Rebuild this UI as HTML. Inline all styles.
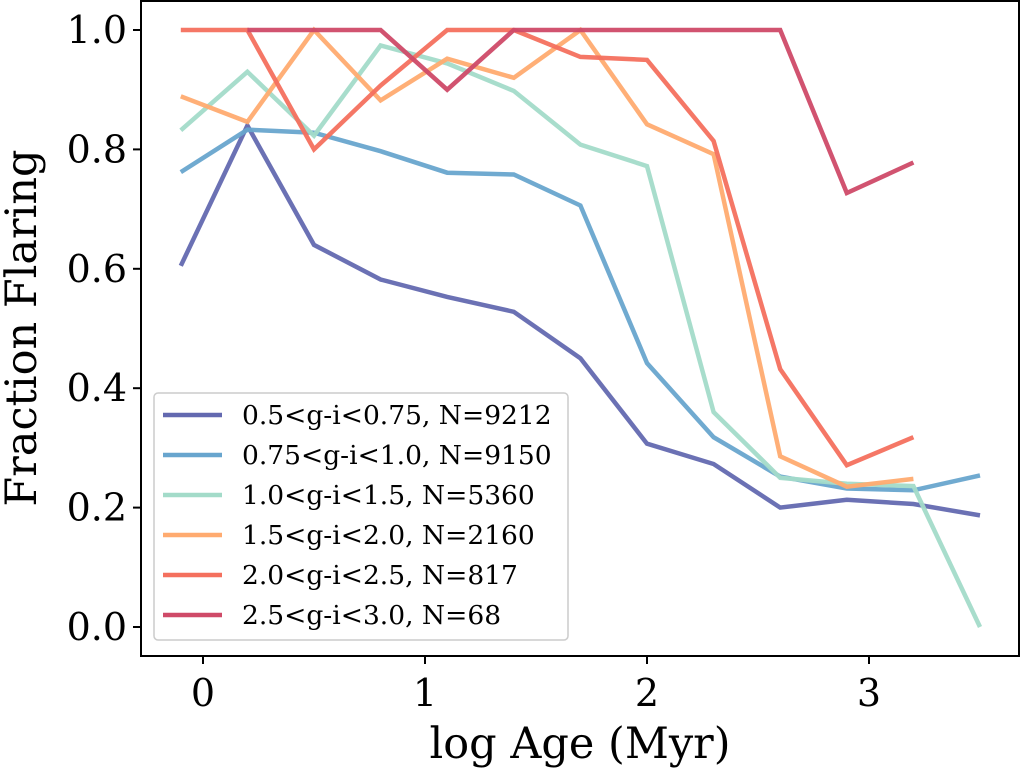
<!DOCTYPE html>
<html><head><meta charset="utf-8"><style>
body{margin:0;background:#fff}
svg text{font-family:"DejaVu Serif","Liberation Serif",serif;fill:#000}
</style></head><body>
<svg id="chart" width="1021" height="769" viewBox="0 0 1021 769" xmlns="http://www.w3.org/2000/svg">
<g id="lines"></g>
<rect x="141" y="1" width="878" height="655" fill="none" stroke="#000" stroke-width="2"/>
<g id="axes"></g>
<text x="580" y="758" font-size="43" text-anchor="middle">log Age (Myr)</text>
<text transform="translate(36,328) rotate(-90)" font-size="43" text-anchor="middle">Fraction Flaring</text>
<g id="legend"></g>
</svg>
<script>
const xs = [-0.1,0.2,0.5,0.8,1.1,1.4,1.7,2.0,2.3,2.6,2.9,3.2,3.5];
const labels = ["0.5<g-i<0.75, N=9212","0.75<g-i<1.0, N=9150","1.0<g-i<1.5, N=5360","1.5<g-i<2.0, N=2160","2.0<g-i<2.5, N=817","2.5<g-i<3.0, N=68"];
const s1 = [0.605,0.84,0.64,0.582,0.553,0.528,0.45,0.307,0.273,0.200,0.213,0.206,0.187];
const s2 = [0.762,0.833,0.828,0.797,0.761,0.758,0.706,0.442,0.318,0.252,0.232,0.229,0.254];
const s3 = [0.832,0.930,0.823,0.974,0.944,0.898,0.808,0.772,0.360,0.250,0.240,0.236,0.0];
const s4 = [0.889,0.846,1.0,0.882,0.952,0.920,1.0,0.842,0.792,0.286,0.235,0.248,null];
const s5 = [1.0,1.0,0.80,0.907,1.0,1.0,0.955,0.950,0.814,0.432,0.271,0.318,null];
const s6 = [null,1.0,1.0,1.0,0.90,1.0,1.0,1.0,1.0,1.0,0.727,0.778,null];
const xTicks = [0,1,2,3];
const yTicks = [0.0,0.2,0.4,0.6,0.8,1.0];
const series = [s1,s2,s3,s4,s5,s6];
const colors = ["#6369b0","#68a5ce","#a3dbc9","#ffab70","#f4705e","#cf4a68"];
const X = v => 203 + v*222;
const Y = v => 627 - v*597;
const NS="http://www.w3.org/2000/svg";
const lg=document.getElementById('lines');
series.forEach((s,i)=>{
  const pts=[];s.forEach((v,j)=>{if(v!==null)pts.push(X(xs[j]).toFixed(1)+','+Y(v).toFixed(1));});
  const p=document.createElementNS(NS,'polyline');
  p.setAttribute('points',pts.join(' '));p.setAttribute('fill','none');
  p.setAttribute('stroke',colors[i]);p.setAttribute('stroke-width','4.5');p.setAttribute('stroke-opacity','0.95');
  
  
  lg.appendChild(p);
});
const ax=document.getElementById('axes');
xTicks.forEach(t=>{
  const l=document.createElementNS(NS,'line');
  l.setAttribute('x1',X(t));l.setAttribute('x2',X(t));l.setAttribute('y1',656);l.setAttribute('y2',664);l.setAttribute('stroke','#000');l.setAttribute('stroke-width','2');
  
  
  ax.appendChild(l);
  const tx=document.createElementNS(NS,'text');
  tx.setAttribute('x',X(t));tx.setAttribute('y',706);tx.setAttribute('font-size','38');tx.setAttribute('text-anchor','middle');tx.textContent=t;
  
  
  ax.appendChild(tx);
});
yTicks.forEach(t=>{
  const l=document.createElementNS(NS,'line');
  l.setAttribute('x1',133);l.setAttribute('x2',141);l.setAttribute('y1',Y(t));l.setAttribute('y2',Y(t));l.setAttribute('stroke','#000');l.setAttribute('stroke-width','2');
  
  
  ax.appendChild(l);
  const tx=document.createElementNS(NS,'text');
  tx.setAttribute('x',127);tx.setAttribute('y',Y(t)+13);tx.setAttribute('font-size','38');tx.setAttribute('text-anchor','end');tx.textContent=t.toFixed(1);
  
  
  ax.appendChild(tx);
});
const leg=document.getElementById('legend');
const box=document.createElementNS(NS,'rect');
box.setAttribute('x',154);box.setAttribute('y',393);box.setAttribute('width',414);box.setAttribute('height',247);box.setAttribute('rx',4);
box.setAttribute('fill','#fff');box.setAttribute('fill-opacity','0.8');box.setAttribute('stroke','#ccc');box.setAttribute('stroke-width','1.5');


leg.appendChild(box);
labels.forEach((lab,i)=>{
  const y=415+i*40;
  const l=document.createElementNS(NS,'line');
  l.setAttribute('x1',163);l.setAttribute('x2',222);l.setAttribute('y1',y);l.setAttribute('y2',y);l.setAttribute('stroke',colors[i]);l.setAttribute('stroke-width','4.5');
  
  
  leg.appendChild(l);
  const tx=document.createElementNS(NS,'text');
  tx.setAttribute('x',242);tx.setAttribute('y',y+9);tx.setAttribute('font-size','26.5');tx.textContent=lab;
  
  
  leg.appendChild(tx);
});
</script>
</body></html>
